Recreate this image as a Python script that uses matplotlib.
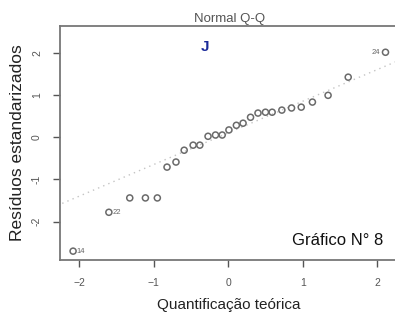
import numpy as np
import matplotlib.pyplot as plt

plt.rcParams['font.family'] = ['Liberation Sans', 'DejaVu Sans']

# Quantis teóricos (eixo x) e resíduos estandarizados (eixo y)
teorico = [-2.08, -1.60, -1.32, -1.11, -0.95, -0.82, -0.70, -0.59, -0.47,
           -0.38, -0.27, -0.17, -0.08, 0.01, 0.11, 0.20, 0.30, 0.40, 0.50,
           0.59, 0.72, 0.85, 0.98, 1.13, 1.34, 1.61, 2.11]
residuos = [-2.70, -1.78, -1.44, -1.44, -1.44, -0.71, -0.59, -0.31, -0.19,
            -0.19, 0.02, 0.05, 0.05, 0.17, 0.28, 0.33, 0.47, 0.57, 0.59,
            0.59, 0.64, 0.69, 0.71, 0.83, 0.99, 1.42, 2.01]
# observações identificadas
rotulos = {0: "14", 1: "22", 26: "24"}
# reta de referência (qqline)
inclinacao = 0.75
intercepto = 0.10

cinza = "#555555"

fig = plt.figure(figsize=(3.95, 3.2), dpi=100)
ax = fig.add_axes([0.152, 0.1875, 0.856, 0.731])

xx = np.array([-2.5, 2.5])
ax.plot(xx, intercepto + inclinacao * xx, linestyle=(0, (1, 3)), color="#c4c4c4", lw=1)
ax.scatter(teorico, residuos, s=19, facecolors="none", edgecolors="#6a6a6a", linewidths=1.1, zorder=3)

for i, txt in rotulos.items():
    if i == 26:
        ax.annotate(txt, (teorico[i], residuos[i]), xytext=(-4, 0), textcoords="offset points",
                    ha="right", va="center", fontsize=5.5, color="#666666")
    else:
        ax.annotate(txt, (teorico[i], residuos[i]), xytext=(2.5, 0), textcoords="offset points",
                    ha="left", va="center", fontsize=5.5, color="#666666")

ax.set_xlim(-2.255, 2.28)
ax.set_ylim(-2.91, 2.63)
ax.set_xticks([-2, -1, 0, 1, 2])
ax.set_yticks([-2, -1, 0, 1, 2])
ax.set_yticklabels(["-2", "-1", "0", "1", "2"], rotation=90, va="center")
ax.tick_params(colors=cinza, labelsize=7.5, length=5, width=1, pad=8)
for s in ax.spines.values():
    s.set_color("#777777")
    s.set_linewidth(1.3)

ax.set_title("Normal Q-Q", fontsize=9.5, color="#555555", pad=3)
ax.set_xlabel("Quantificação teórica", fontsize=11, color="#222222", labelpad=7)
ax.set_ylabel("Resíduos estandarizados", fontsize=12.5, color="#222222", labelpad=5)

ax.text(0.955, 0.085, "Gráfico N° 8", transform=ax.transAxes, fontsize=12,
        ha="right", va="center", color="#111111")
fig.text(0.52, 0.852, "J", fontsize=11, fontweight="bold", color="#1a2a9a", ha="center", va="center")

fig.savefig("out.png", dpi=100)
